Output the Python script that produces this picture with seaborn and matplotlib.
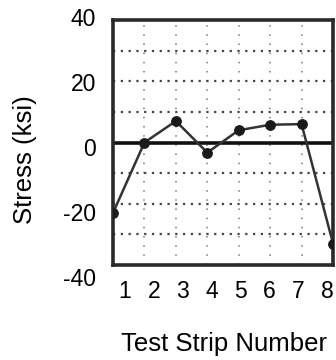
import matplotlib
matplotlib.use("Agg")
import matplotlib.pyplot as plt
import seaborn as sns
import pandas as pd

strip = [1, 2, 3, 4, 5, 6, 7, 8]
stress = [-23, 0, 7, -3.3, 4, 5.8, 6, -33]
x_ticks = [1, 2, 3, 4, 5, 6, 7, 8]
y_ticks = [-40, -20, 0, 20, 40]
x_label = "Test Strip Number"
y_label = "Stress (ksi)"

sns.set_theme(style="white")
plt.rcParams['font.family'] = ['Liberation Sans', 'DejaVu Sans']
plt.rcParams['text.color'] = 'black'

df = pd.DataFrame({"strip": strip, "stress": stress})

W, H = 336, 360
fig = plt.figure(figsize=(W / 100, H / 100), dpi=100)

def rect(x0, y0, x1, y1):
    return [x0 / W, 1 - y1 / H, (x1 - x0) / W, (y1 - y0) / H]

ax = fig.add_axes(rect(113, 20, 333, 265))
ax.set_xlim(1, 8)
ax.set_ylim(-40, 40)

# grid lines
for gx in range(2, 8):
    ax.axvline(gx, color="#777777", lw=1.1, ls=(0, (1, 5)), zorder=1)
for gy in [-30, -20, -10, 10, 20, 30]:
    ax.axhline(gy, color="#444444", lw=1.6, ls=(0, (1, 2.5)), zorder=1)
ax.axhline(0, color="#111111", lw=2.6, zorder=2)

sns.lineplot(data=df, x="strip", y="stress", ax=ax, color="#333333", lw=1.8,
             marker="o", markersize=7, markeredgecolor="#1a1a1a",
             markerfacecolor="#1a1a1a", zorder=3, clip_on=True)

ax.set_xticks([])
ax.set_yticks([])
ax.set_xlabel("")
ax.set_ylabel("")
for s in ax.spines.values():
    s.set_visible(True)
    s.set_color("#2a2a2a")
    s.set_linewidth(2.6)

# tick label axes (labels offset from plot frame, as in the reference)
axy = fig.add_axes(rect(113, 17, 333, 277), frameon=False)
axy.set_ylim(-40, 40)
axy.set_yticks(y_ticks)
axy.set_yticklabels([str(v) for v in y_ticks], fontsize=16.5, color="black")
axy.tick_params(axis="y", length=0, pad=12)
axy.set_xticks([])
axy.patch.set_visible(False)

axx = fig.add_axes(rect(125, 20, 327, 265), frameon=False)
axx.set_xlim(1, 8)
axx.set_xticks(x_ticks)
axx.set_xticklabels([str(v) for v in x_ticks], fontsize=16.5, color="black")
axx.tick_params(axis="x", length=0, pad=11)
axx.set_yticks([])
axx.patch.set_visible(False)

fig.text(224 / W, 1 - 344 / H, x_label, fontsize=18.5, ha="center", va="center",
         color="black")
fig.text(25 / W, 1 - 160 / H, y_label, fontsize=18.5, ha="center", va="center",
         rotation=90, color="black")

fig.savefig("out.png", dpi=100)
